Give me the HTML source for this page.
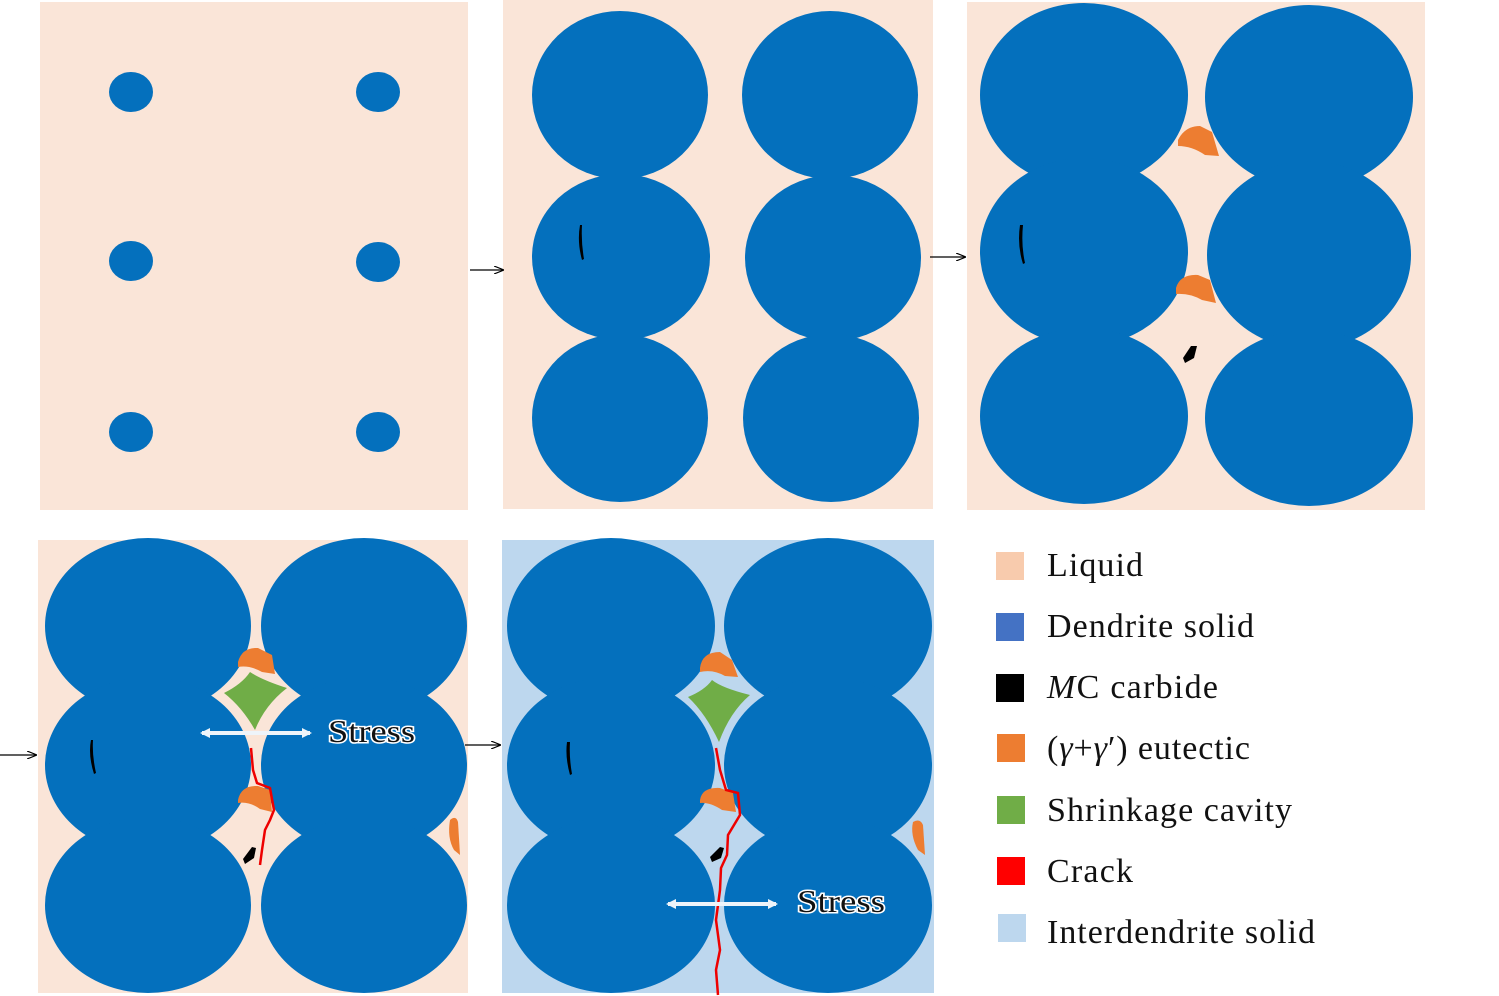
<!DOCTYPE html>
<html><head><meta charset="utf-8"><style>
html,body{margin:0;padding:0;background:#fff;width:1499px;height:996px;overflow:hidden}
svg{display:block}
text{font-family:"Liberation Serif",serif}
</style></head><body>
<svg width="1499" height="996" viewBox="0 0 1499 996" xmlns="http://www.w3.org/2000/svg">
<defs>
<marker id="ah" markerWidth="10" markerHeight="8" refX="9" refY="4" orient="auto" markerUnits="userSpaceOnUse">
<path d="M0,0 L10,4 L0,8" fill="none" stroke="#000" stroke-width="1.2"/></marker>
<marker id="wh" markerWidth="10" markerHeight="10" refX="8" refY="5" orient="auto-start-reverse" markerUnits="userSpaceOnUse">
<path d="M0,0 L10,5 L0,10 Z" fill="#eef4fa"/></marker>
</defs>
<!-- Panel 1 -->
<rect x="40" y="2" width="428" height="508" fill="#fae5d8"/>
<g fill="#0470bd">
<ellipse cx="131" cy="92" rx="22" ry="20"/><ellipse cx="378" cy="92" rx="22" ry="20"/>
<ellipse cx="131" cy="261" rx="22" ry="20"/><ellipse cx="378" cy="262" rx="22" ry="20"/>
<ellipse cx="131" cy="432" rx="22" ry="20"/><ellipse cx="378" cy="432" rx="22" ry="20"/>
</g>
<!-- Panel 2 -->
<rect x="503" y="0" width="430" height="509" fill="#fae5d8"/>
<g fill="#0470bd">
<ellipse cx="620" cy="95" rx="88" ry="84"/><ellipse cx="830" cy="95" rx="88" ry="84"/>
<ellipse cx="621" cy="257" rx="89" ry="83"/><ellipse cx="833" cy="258" rx="88" ry="83"/>
<ellipse cx="620" cy="418" rx="88" ry="84"/><ellipse cx="831" cy="418" rx="88" ry="84"/>
</g>
<path d="M580,225 Q577,242 582,260 L584,259 Q581,242 582,225Z" fill="#000"/>
<!-- Panel 3 -->
<rect x="967" y="2" width="458" height="508" fill="#fae5d8"/>
<g fill="#0470bd">
<ellipse cx="1084" cy="95" rx="104" ry="92"/><ellipse cx="1309" cy="97" rx="104" ry="92"/>
<ellipse cx="1084" cy="252" rx="104" ry="94"/><ellipse cx="1309" cy="255" rx="102" ry="94"/>
<ellipse cx="1084" cy="416" rx="104" ry="88"/><ellipse cx="1309" cy="418" rx="104" ry="88"/>
</g>
<path d="M1178,140 Q1185,126 1200,126 L1212,132 L1219,156 L1205,155 Q1192,146 1178,146Z" fill="#ed7d31"/>
<path d="M1176,288 Q1180,274 1198,275 L1210,280 L1216,303 L1202,300 Q1190,293 1176,294Z" fill="#ed7d31"/>
<path d="M1191,346 L1197,346 L1194,358 L1185,363 L1183,358Z" fill="#000"/>
<path d="M1020,225 Q1017,245 1023,264 L1025,263 Q1021,245 1023,225Z" fill="#000"/>
<!-- Panel 4 -->
<rect x="38" y="540" width="430" height="453" fill="#fae5d8"/>
<g fill="#0470bd">
<ellipse cx="148" cy="626" rx="103" ry="88"/><ellipse cx="364" cy="626" rx="103" ry="88"/>
<ellipse cx="148" cy="765" rx="103" ry="88"/><ellipse cx="364" cy="765" rx="103" ry="88"/>
<ellipse cx="148" cy="905" rx="103" ry="88"/><ellipse cx="364" cy="905" rx="103" ry="88"/>
</g>
<path d="M224,693 Q242,684 250,672 Q262,680 287,688 Q265,705 255,730 Q242,707 224,693Z" fill="#70ad47"/>
<path d="M238,662 Q242,647 258,648 L272,655 L275,674 L262,672 Q250,665 238,667Z" fill="#ed7d31"/>
<path d="M238,800 Q241,785 258,786 L270,790 L272,812 L260,809 Q249,801 238,803Z" fill="#ed7d31"/>
<path d="M450,820 Q456,815 458,822 L460,855 L454,850 Q447,838 450,820Z" fill="#ed7d31"/>
<path d="M252,847 L256,848 L254,858 L245,864 L243,859Z" fill="#000"/>
<path d="M91,740 Q88,755 94,774 L96,773 Q92,755 93,740Z" fill="#000"/>
<polyline points="251,748 253,770 257,783 270,788 274,810 270,820 265,830 262,850 260,865" fill="none" stroke="#e00" stroke-width="2.5"/>
<line x1="202" y1="733" x2="310" y2="733" stroke="#eef4fa" stroke-width="4" marker-start="url(#wh)" marker-end="url(#wh)"/>
<text x="328" y="742" font-size="32" textLength="87" lengthAdjust="spacingAndGlyphs" fill="#111" stroke="#fff" stroke-width="3" paint-order="stroke">Stress</text>
<!-- Panel 5 -->
<rect x="502" y="540" width="432" height="453" fill="#bdd7ee"/>
<g fill="#0470bd">
<ellipse cx="611" cy="626" rx="104" ry="88"/><ellipse cx="828" cy="626" rx="104" ry="88"/>
<ellipse cx="611" cy="765" rx="104" ry="88"/><ellipse cx="828" cy="765" rx="104" ry="88"/>
<ellipse cx="611" cy="905" rx="104" ry="88"/><ellipse cx="828" cy="905" rx="104" ry="88"/>
</g>
<path d="M688,697 Q705,690 712,680 Q722,688 750,695 Q730,712 719,742 Q706,714 688,697Z" fill="#70ad47"/>
<path d="M700,668 Q702,652 720,652 L732,660 L738,677 L725,676 Q713,669 700,672Z" fill="#ed7d31"/>
<path d="M700,800 Q702,787 720,788 L733,793 L736,812 L722,810 Q710,802 700,803Z" fill="#ed7d31"/>
<path d="M913,822 Q920,818 923,825 L925,855 L918,850 Q910,835 913,822Z" fill="#ed7d31"/>
<path d="M720,847 L724,848 L721,858 L712,862 L710,857Z" fill="#000"/>
<path d="M567,742 Q565,757 570,775 L572,774 Q569,757 570,742Z" fill="#000"/>
<polyline points="716,748 720,770 726,790 738,793 740,815 734,825 728,835 727,855 721,868 720,890 716,920 720,950 716,970 718,995" fill="none" stroke="#e00" stroke-width="2.5"/>
<line x1="668" y1="904" x2="776" y2="904" stroke="#eef4fa" stroke-width="4" marker-start="url(#wh)" marker-end="url(#wh)"/>
<text x="797" y="912" font-size="32" textLength="88" lengthAdjust="spacingAndGlyphs" fill="#111" stroke="#fff" stroke-width="3" paint-order="stroke">Stress</text>
<!-- Arrows -->
<g stroke="#000" stroke-width="1.2">
<line x1="470" y1="270" x2="503" y2="270" marker-end="url(#ah)"/>
<line x1="930" y1="257" x2="965" y2="257" marker-end="url(#ah)"/>
<line x1="0" y1="755" x2="36" y2="755" marker-end="url(#ah)"/>
<line x1="465" y1="745" x2="500" y2="745" marker-end="url(#ah)"/>
</g>
<!-- Legend -->
<rect x="996" y="552" width="28" height="28" fill="#f8cbad"/>
<rect x="996" y="613" width="28" height="28" fill="#4472c4"/>
<rect x="996" y="674" width="28" height="28" fill="#000"/>
<rect x="997" y="734" width="28" height="28" fill="#ed7d31"/>
<rect x="997" y="796" width="28" height="28" fill="#70ad47"/>
<rect x="997" y="857" width="28" height="28" fill="#f00"/>
<rect x="998" y="914" width="28" height="28" fill="#bdd7ee"/>
<g font-size="34" fill="#111" lengthAdjust="spacingAndGlyphs">
<text x="1047" y="576" textLength="96">Liquid</text>
<text x="1047" y="637" textLength="207">Dendrite solid</text>
<text x="1047" y="698" textLength="171"><tspan font-style="italic">M</tspan>C carbide</text>
<text x="1047" y="759" textLength="203">(<tspan font-style="italic">γ</tspan>+<tspan font-style="italic">γ</tspan>′) eutectic</text>
<text x="1047" y="821" textLength="245">Shrinkage cavity</text>
<text x="1047" y="882" textLength="86">Crack</text>
<text x="1047" y="943" textLength="268">Interdendrite solid</text>
</g>
</svg>
</body></html>
